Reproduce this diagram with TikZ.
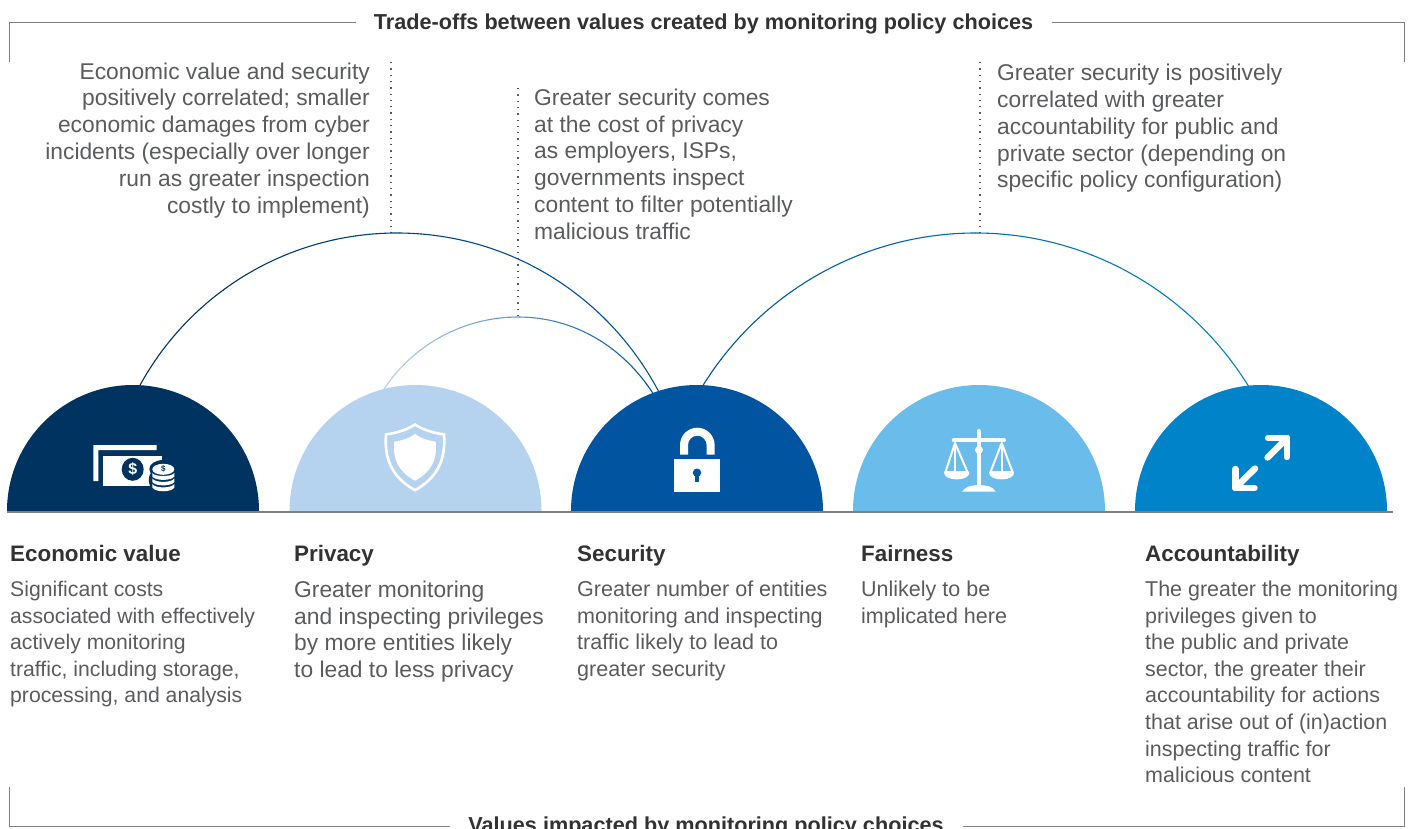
\documentclass[tikz,border=0pt]{standalone}
\usepackage{fontspec}
\setmainfont{Liberation Sans}
\definecolor{cEco}{HTML}{003360}
\definecolor{cPri}{HTML}{B5D3EF}
\definecolor{cSec}{HTML}{0054A0}
\definecolor{cFai}{HTML}{6ABDEA}
\definecolor{cAcc}{HTML}{0083C9}
\definecolor{cBody}{HTML}{5A5B5D}
\definecolor{cHead}{HTML}{333232}
\definecolor{cRule}{HTML}{808080}
\tikzset{
  bodytext/.style={inner sep=0pt,anchor=north west,align=left,text=cBody,font=\fontsize{#1}{26.55}\selectfont,execute at begin node={\rule{0pt}{16pt}}},
  notetext/.style={bodytext=22.8,font=\fontsize{22.8}{26.8}\selectfont},
  righttext/.style={notetext,anchor=north east,align=right},
  headtext/.style={inner sep=0pt,anchor=base west,text=cHead,font=\fontsize{22.4}{26}\selectfont\bfseries},
  titletext/.style={inner sep=0pt,anchor=base,text=cHead,font=\fontsize{21.65}{26}\selectfont\bfseries},
  framerule/.style={draw=cRule,line width=0.9pt},
  baserule/.style={draw=cRule,line width=2pt},
  dotline/.style={draw=cBody,line width=1.3pt,dash pattern=on 1.3pt off 5pt},
  arcline/.style={line width=1.1pt},
  icon/.style={fill=white,draw=none},
}
\newcommand{\gradarc}[5]{%
  \foreach \i in {0,...,23}{%
    \pgfmathsetmacro\xa{#4+(#5-#4)*\i/24}%
    \pgfmathsetmacro\xb{#4+(#5-#4)*(\i+1)/24+0.4}%
    \pgfmathsetmacro\pc{100*\i/23}%
    \begin{scope}
      \clip (\xa,0) rectangle (\xb,828);
      \draw[arcline,draw=#3!\pc!#2] #1;
    \end{scope}
  }%
}
\begin{document}
\begin{tikzpicture}[x=1pt,y=-1pt]
\useasboundingbox (0,0) rectangle (1413,828);
\clip (0,0) rectangle (1413,828);
% frame
\node[titletext] (topTitle) at (703.5,29) {Trade-offs between values created by monitoring policy choices};
\node[titletext] (botTitle) at (706,832) {Values impacted by monitoring policy choices};
\draw[framerule] (9,62) -- (9,22) -- (356,22);
\draw[framerule] (1052,22) -- (1404,22) -- (1404,62);
\draw[framerule] (9,787) -- (9,826.5) -- (450,826.5);
\draw[framerule] (963,826.5) -- (1404,826.5) -- (1404,787);
% anchors
\coordinate (ecoStart) at (139,387);
\coordinate (ecoTop) at (397,233);
\coordinate (ecoEnd) at (660,394);
\coordinate (priStart) at (384,389);
\coordinate (priTop) at (518,317);
\coordinate (priEnd) at (654,395);
\coordinate (accStart) at (702,387);
\coordinate (accTop) at (975.5,233);
\coordinate (accEnd) at (1249,387);
\coordinate (noteA) at (391,62);
\coordinate (noteAend) at (391,233);
\coordinate (noteB) at (518,88);
\coordinate (noteC) at (980,62);
\coordinate (noteCend) at (980,233);
% dotted leaders
\draw[dotline] (noteA) -- (noteAend);
\draw[dotline] (noteB) -- (priTop);
\draw[dotline] (noteC) -- (noteCend);
% arcs
\gradarc{(ecoStart) .. controls (191,291) and (290,233) .. (ecoTop) .. controls (507,233) and (608,294) .. (ecoEnd)}{cEco}{cSec}{135}{664}
\gradarc{(priStart) .. controls (414,344) and (464.4,317) .. (priTop) .. controls (573.4,317) and (623,346) .. (priEnd)}{cPri}{cSec}{380}{658}
\gradarc{(accStart) .. controls (761,291) and (864.5,233) .. (accTop) .. controls (1086.5,233) and (1190,291) .. (accEnd)}{cSec}{cAcc}{698}{1253}
% domes
\fill[cEco] (7,511) arc (180:360:126) -- cycle;
\fill[cPri] (289.5,511) arc (180:360:126) -- cycle;
\fill[cSec] (571,511) arc (180:360:126) -- cycle;
\fill[cFai] (853,511) arc (180:360:126) -- cycle;
\fill[cAcc] (1135,511) arc (180:360:126) -- cycle;
\draw[baserule] (7,512) -- (1393,512);
% money icon
\fill[icon] (93.3,445) -- (156.7,445) -- (156.7,450) -- (98.3,450) -- (98.3,481) -- (93.3,481) -- cycle;
\fill[icon] (103.3,455.7) rectangle (161.7,485.7);
\fill[cEco] (132.7,469.3) ellipse (11 and 11.5);
\node[inner sep=0pt,text=white,font=\fontsize{16}{16}\selectfont\bfseries] (moneySign) at (132.7,469.3) {\$};
\fill[cEco] (163.3,480) ellipse (14.5 and 14) ;
\fill[cEco] (163.3,469) ellipse (14 and 9);
\fill[icon] (163.3,469.3) ellipse (11 and 5.5);
\node[inner sep=0pt,text=cEco,font=\fontsize{8}{8}\selectfont\bfseries] (coinSign) at (163.3,469.3) {\$};
\fill[icon] (152.3,473) .. controls (155,477) and (171.5,477) .. (174.3,473) -- (174.3,476.5) .. controls (171.5,481) and (155,481) .. (152.3,476.5) -- cycle;
\fill[icon] (152.3,478.5) .. controls (155,483) and (171.5,483) .. (174.3,478.5) -- (174.3,482) .. controls (171.5,486.5) and (155,486.5) .. (152.3,482) -- cycle;
\fill[icon] (152.3,484) .. controls (155,488.5) and (171.5,488.5) .. (174.3,484) -- (174.3,487.5) .. controls (171.5,492.5) and (155,492.5) .. (152.3,487.5) -- cycle;
% shield icon
\draw[white,line width=2.6pt,line join=miter] (415,424.5) .. controls (423,430) and (434,433) .. (444,434.5) .. controls (446,460) and (437,478) .. (415,490.2) .. controls (393,478) and (384,460) .. (386,434.5) .. controls (396,433) and (407,430) .. cycle;
\fill[icon] (415,434) .. controls (420,438) and (428,440.5) .. (435.7,441.7) .. controls (437.5,460) and (431,472) .. (415,480.7) .. controls (399,472) and (392.5,460) .. (394.3,441.7) .. controls (402,440.5) and (410,438) .. cycle;
% lock icon
\fill[icon] (674,459) rectangle (720.4,491.7);
\fill[icon,even odd rule] (680,454.7) -- (680,445) arc (180:360:17.3) -- (714.6,454.7) -- (706.6,454.7) -- (706.6,445) arc (360:180:9.3) -- (688,454.7) -- cycle;
\fill[cSec] (697,472.7) circle (4.2);
\fill[cSec] (695.3,473) rectangle (698.7,482);
% scales icon
\draw[white,line width=4pt,line cap=round] (979,431) -- (979,488);
\fill[icon] (962,491.7) .. controls (965,486.5) and (972,485) .. (979,485) .. controls (986,485) and (993,486.5) .. (995.7,491.7) -- cycle;
\fill[icon] (979,450) circle (4);
\draw[white,line width=4pt,line cap=round] (953.7,440.3) -- (1004,440.3);
\begin{scope}[draw=white,line width=2pt,line join=round]
\draw (955,443) -- (945.5,472) -- (967.5,472) -- cycle;
\draw (955,443) -- (955,472);
\draw (1001.7,443) -- (990.5,472) -- (1012.5,472) -- cycle;
\draw (1001.7,443) -- (1001.7,472);
\end{scope}
\fill[icon] (944,471.7) -- (969.3,471.7) .. controls (971,482) and (942.5,482) .. (944,471.7) -- cycle;
\fill[icon] (989,471.7) -- (1014,471.7) .. controls (1015.7,482) and (987.5,482) .. (989,471.7) -- cycle;
% arrows icon
\begin{scope}[draw=white,line width=6.4pt,line cap=round,line join=round]
\draw (1268,438) -- (1287,438) -- (1287,457);
\draw (1287,438) -- (1267.5,457.5);
\draw (1235.3,469) -- (1235.3,488) -- (1254.5,488);
\draw (1235.3,488) -- (1255,468.5);
\end{scope}
% notes
\node[righttext] (noteEco) at (370,62.3) {Economic value and security\\positively correlated; smaller\\economic damages from cyber\\incidents (especially over longer\\run as greater inspection\\costly to implement)};
\node[notetext] (noteSec) at (534,88.5) {Greater security comes\\at the cost of privacy\\as employers, ISPs,\\governments inspect\\content to filter potentially\\malicious traffic};
\node[notetext] (noteAcc) at (997,64) {Greater security is positively\\correlated with greater\\accountability for public and\\private sector (depending on\\specific policy configuration)};
% columns
\node[headtext] (hEco) at (10,561) {Economic value};
\node[headtext] (hPri) at (294,561) {Privacy};
\node[headtext] (hSec) at (577,561) {Security};
\node[headtext] (hFai) at (861,561) {Fairness};
\node[headtext] (hAcc) at (1145,561) {Accountability};
\node[bodytext=21.2] (bEco) at (10,581) {Significant costs\\associated with effectively\\actively monitoring\\traffic, including storage,\\processing, and analysis};
\node[bodytext=22.8] (bPri) at (294,581) {Greater monitoring\\and inspecting privileges\\by more entities likely\\to lead to less privacy};
\node[bodytext=21.55] (bSec) at (577,581) {Greater number of entities\\monitoring and inspecting\\traffic likely to lead to\\greater security};
\node[bodytext=21.5] (bFai) at (861,581) {Unlikely to be\\implicated here};
\node[bodytext=21.45] (bAcc) at (1145,581) {The greater the monitoring\\privileges given to\\the public and private\\sector, the greater their\\accountability for actions\\that arise out of (in)action\\inspecting traffic for\\malicious content};
\end{tikzpicture}
\end{document}
